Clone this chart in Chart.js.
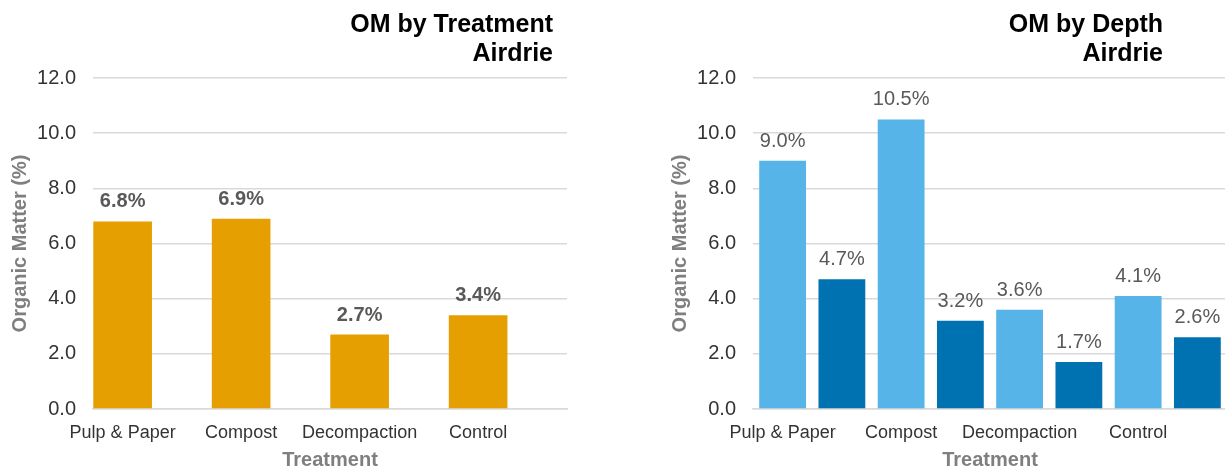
<!DOCTYPE html>
<html>
<head>
<meta charset="utf-8">
<title>Organic Matter – Airdrie</title>
<script src="https://cdn.jsdelivr.net/npm/chart.js@4"></script>
<style>
  html, body { margin: 0; padding: 0; background: #ffffff; overflow: hidden; }
  #wrap { position: relative; width: 1225px; height: 470px; overflow: hidden; }
  .panel { position: absolute; top: 0; width: 600px; height: 470px; }
</style>
</head>
<body>
<div id="wrap">
  <div class="panel" style="left:0px"><canvas id="byTreatment" width="600" height="470"></canvas></div>
  <div class="panel" style="left:660px"><canvas id="byDepth" width="600" height="470"></canvas></div>
</div>
<script>
// Treatments and organic matter (%) values
const treatments = ['Pulp & Paper', 'Compost', 'Decompaction', 'Control'];
const omByTreatment = [6.8, 6.9, 2.7, 3.4];
const omUpperDepth = [9.0, 10.5, 3.6, 4.1];
const omLowerDepth = [4.7, 3.2, 1.7, 2.6];
const yTicks = [0, 2, 4, 6, 8, 10, 12];

// Each treatment takes two slots on the category axis; only the first slot is labelled
const slotLabels = treatments.flatMap(t => [t, t]);
const firstSlot = arr => arr.flatMap(v => [v, null]);
const secondSlot = arr => arr.flatMap(v => [null, v]);

const COLORS = { orange: '#E69F00', light: '#56B4E9', dark: '#0072B2' };
Chart.defaults.font.family = '"Liberation Sans", Arial, Helvetica, sans-serif';

// Percentage labels above each bar
const valueLabels = {
  id: 'valueLabels',
  afterDatasetsDraw(chart, args, opts) {
    const { ctx } = chart;
    ctx.save();
    ctx.font = opts.font;
    ctx.fillStyle = opts.color;
    ctx.textAlign = 'center';
    ctx.textBaseline = 'alphabetic';
    chart.data.datasets.forEach((ds, di) => {
      chart.getDatasetMeta(di).data.forEach((bar, i) => {
        const v = ds.data[i];
        if (v === null || v === undefined) return;
        ctx.fillText(v.toFixed(1) + '%', bar.x, bar.y - opts.gap);
      });
    });
    ctx.restore();
  }
};

// Right-aligned two-line heading in the upper corner
const cornerTitle = {
  id: 'cornerTitle',
  afterDraw(chart, args, opts) {
    const { ctx } = chart;
    ctx.save();
    ctx.font = opts.font;
    ctx.fillStyle = opts.color;
    ctx.textAlign = 'right';
    ctx.textBaseline = 'alphabetic';
    opts.lines.forEach((line, k) => ctx.fillText(line, opts.right, opts.baseline + k * opts.lineHeight));
    ctx.restore();
  }
};

function buildChart(canvasId, datasets, titleLines, titleRight, labelWeight, barPct) {
  return new Chart(document.getElementById(canvasId), {
    type: 'bar',
    data: { labels: slotLabels, datasets },
    plugins: [valueLabels, cornerTitle],
    options: {
      responsive: false,
      animation: false,
      devicePixelRatio: 1,
      layout: { padding: { top: 78, right: 33, bottom: 0, left: 0 } },
      datasets: { bar: { categoryPercentage: 1, barPercentage: barPct, grouped: false } },
      plugins: {
        legend: { display: false },
        tooltip: { enabled: false },
        valueLabels: { font: labelWeight + ' 20px "Liberation Sans", Arial, sans-serif', color: '#595959', gap: 14 },
        cornerTitle: {
          lines: titleLines, right: titleRight, baseline: 32, lineHeight: 29,
          font: 'bold 25px "Liberation Sans", Arial, sans-serif', color: '#000000'
        }
      },
      scales: {
        x: {
          grid: { display: false },
          border: { display: true, color: '#d9d9d9', width: 1.5 },
          ticks: {
            autoSkip: false, maxRotation: 0, minRotation: 0, padding: 5,
            color: '#333333', font: { size: 18 },
            callback: (v, i) => (i % 2 === 0 ? slotLabels[i] : '')
          },
          title: {
            display: true, text: 'Treatment', color: '#7f7f7f',
            font: { size: 20, weight: 'bold', lineHeight: 1.0 }, padding: 0
          },
          afterFit: s => { s.height = 61; }
        },
        y: {
          min: 0, max: 12,
          afterBuildTicks: s => { s.ticks = yTicks.map(v => ({ value: v })); },
          grid: { color: '#d9d9d9', lineWidth: 1.5, drawTicks: false },
          border: { display: false },
          ticks: { padding: 17, color: '#333333', font: { size: 20 }, callback: v => Number(v).toFixed(1) },
          title: {
            display: true, text: 'Organic Matter (%)', color: '#7f7f7f',
            font: { size: 20, weight: 'bold' }, padding: { top: 8, bottom: 0 }
          },
          afterFit: s => { s.width = 93; }
        }
      }
    }
  });
}

buildChart('byTreatment', [
  { label: 'Organic matter', data: firstSlot(omByTreatment), backgroundColor: COLORS.orange }
], ['OM by Treatment', 'Airdrie'], 553, 'bold', 0.99);

buildChart('byDepth', [
  { label: 'Upper depth', data: firstSlot(omUpperDepth), backgroundColor: COLORS.light },
  { label: 'Lower depth', data: secondSlot(omLowerDepth), backgroundColor: COLORS.dark }
], ['OM by Depth', 'Airdrie'], 503, 'normal', 0.79);
</script>
</body>
</html>
